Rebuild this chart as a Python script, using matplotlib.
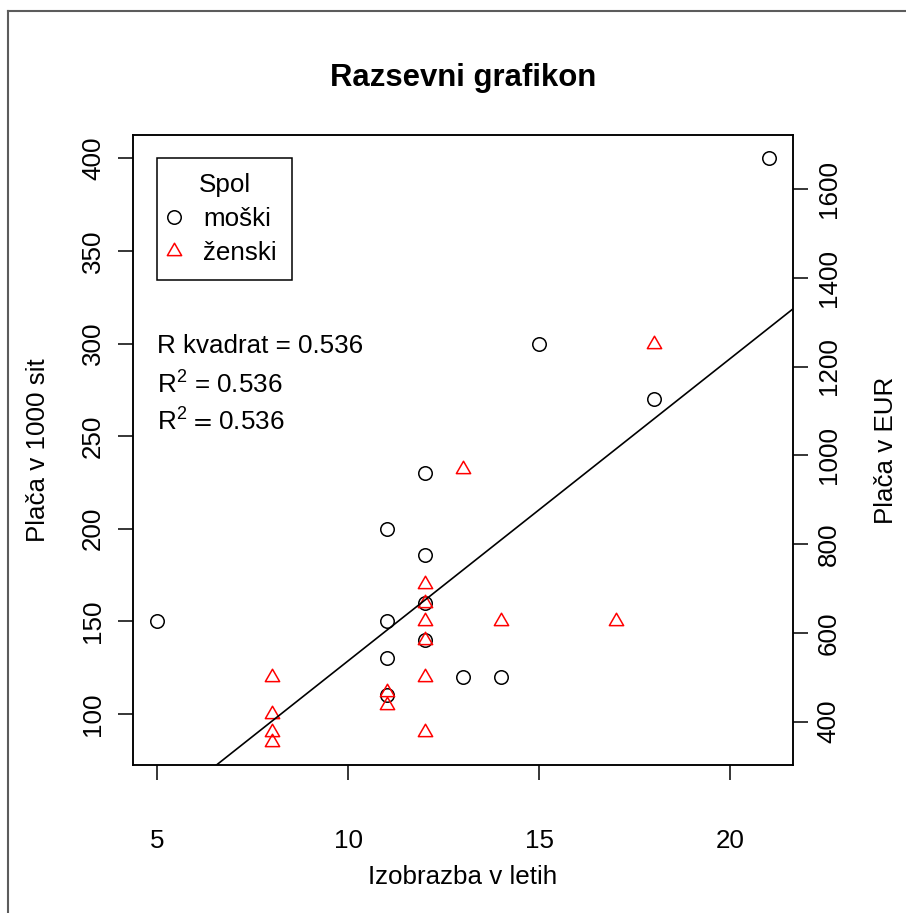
import numpy as np
import matplotlib
matplotlib.use("Agg")
import matplotlib.pyplot as plt
from matplotlib.lines import Line2D
from matplotlib.path import Path

plt.rcParams['font.family'] = ['Liberation Sans', 'DejaVu Sans']
plt.rcParams['mathtext.fontset'] = 'stix'

# ---- data -------------------------------------------------------------
men_edu = [5, 11, 11, 11, 11, 12, 12, 12, 12, 13, 14, 15, 18, 21]
men_pay = [150, 200, 150, 130, 110, 230, 186, 160, 140, 120, 120, 300, 270, 400]
women_edu = [8, 8, 8, 8, 11, 11, 12, 12, 12, 12, 12, 12, 13, 14, 17, 18]
women_pay = [120, 100, 90, 85, 112, 105, 170, 160, 150, 140, 120, 90, 232, 150, 150, 300]
x_ticks = [5, 10, 15, 20]
y_ticks = [100, 150, 200, 250, 300, 350, 400]
eur_ticks = [400, 600, 800, 1000, 1200, 1400, 1600]
sit_per_eur = 239.64
group_labels = ["moški", "ženski"]
r2_label = "0.536"

# ---- figure -----------------------------------------------------------
W, H, DPI = 906, 913, 100
fig = plt.figure(figsize=(W / DPI, H / DPI), dpi=DPI)
FS = 18.7

def fx(px):
    return px / W

def fy(py):
    return 1 - py / H

L, R_, T, B = 133, 793, 135, 765
ax = fig.add_axes([fx(L), fy(B), fx(R_) - fx(L), fy(T) - fy(B)])

all_x = np.array(men_edu + women_edu, dtype=float)
all_y = np.array(men_pay + women_pay, dtype=float)

def r_range(v):
    lo, hi = v.min(), v.max()
    d = 0.04 * (hi - lo)
    return lo - d, hi + d

ax.set_xlim(*r_range(all_x))
ax.set_ylim(*r_range(all_y))

# equilateral triangle centred on its centroid (point up)
tri = Path([(0, 1.1547), (1, -0.57735), (-1, -0.57735), (0, 1.1547)],
           [Path.MOVETO, Path.LINETO, Path.LINETO, Path.CLOSEPOLY])

ax.plot(men_edu, men_pay, linestyle='none', marker='o', markersize=9.7,
        markerfacecolor='none', markeredgecolor='black', markeredgewidth=1.1)
ax.plot(women_edu, women_pay, linestyle='none', marker=tri, markersize=11.9,
        markerfacecolor='none', markeredgecolor='red', markeredgewidth=1.1)

# least-squares line over all observations
slope, icept = np.polyfit(all_x, all_y, 1)
xl = np.array(ax.get_xlim())
ax.plot(xl, icept + slope * xl, color='black', lw=1.2)
ax.set_xlim(*xl)

for s in ax.spines.values():
    s.set_linewidth(1.1)

ax.set_xticks(x_ticks)
ax.set_yticks(y_ticks)
ax.tick_params(axis='both', direction='out', length=11, width=1.1,
               labelsize=FS, colors='black')
ax.tick_params(axis='x', pad=35)
ax.tick_params(axis='y', pad=9)
for lab in ax.get_yticklabels():
    lab.set_rotation(90)
    lab.set_va('center')

# secondary scale in euros
ax2 = ax.twinx()
ax2.set_ylim(np.array(ax.get_ylim()) * 1000 / sit_per_eur)
ax2.set_yticks(eur_ticks)
ax2.tick_params(axis='y', direction='out', length=11, width=1.1,
                labelsize=FS, pad=6)
for lab in ax2.get_yticklabels():
    lab.set_rotation(90)
    lab.set_va('center')
for s in ax2.spines.values():
    s.set_linewidth(1.1)

# annotations
ax.text(5, 295, "R kvadrat = " + r2_label, fontsize=FS, ha='left', va='baseline')
ax.text(5, 273, r"$\mathregular{R^2}$ = " + r2_label, fontsize=FS,
        ha='left', va='baseline')
ax.text(5, 253, r"$\mathregular{R^2}\,=\,\mathregular{" + r2_label + "}$",
        fontsize=FS, ha='left', va='baseline')

# legend
handles = [
    Line2D([], [], linestyle='none', marker='o', markersize=9.7,
           markerfacecolor='none', markeredgecolor='black', markeredgewidth=1.1),
    Line2D([], [], linestyle='none', marker=tri, markersize=11.9,
           markerfacecolor='none', markeredgecolor='red', markeredgewidth=1.1),
]
leg = ax.legend(handles, group_labels, title="Spol", fontsize=FS,
                title_fontsize=FS, loc='upper left',
                bbox_to_anchor=(5, 400), bbox_transform=ax.transData,
                borderaxespad=0, fancybox=False, framealpha=1,
                edgecolor='black', borderpad=0.58, handlelength=0.1,
                handletextpad=1.08, labelspacing=0.38, handleheight=0.7)
leg.get_frame().set_linewidth(1.1)

# titles and axis labels
fig.text(fx((L + R_) / 2), fy(86), "Razsevni grafikon", fontsize=22.4,
         fontweight='bold', ha='center', va='baseline')
fig.text(fx((L + R_) / 2), fy(884), "Izobrazba v letih", fontsize=FS,
         ha='center', va='baseline')
fig.text(fx(38), fy((T + B) / 2), "Plača v 1000 sit", fontsize=FS,
         rotation=90, ha='center', va='center')
fig.text(fx(886), fy((T + B) / 2), "Plača v EUR", fontsize=FS,
         rotation=90, ha='center', va='center')

# outer frame edges
fig.add_artist(Line2D([fx(8), 1], [fy(11), fy(11)], transform=fig.transFigure,
                      color='#5c5c5c', lw=1.5))
fig.add_artist(Line2D([fx(8), fx(8)], [0, fy(11)], transform=fig.transFigure,
                      color='#5c5c5c', lw=1.5))

fig.savefig("out.png", dpi=DPI)
